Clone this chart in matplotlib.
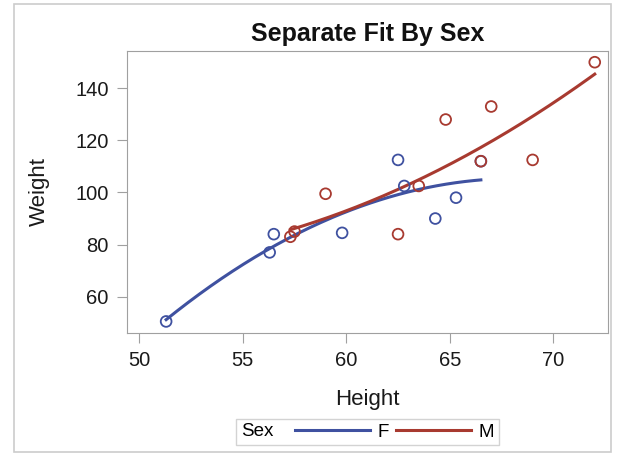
import numpy as np
import matplotlib
matplotlib.use("Agg")
import matplotlib.pyplot as plt
from matplotlib.lines import Line2D
from matplotlib.patches import Rectangle
from matplotlib.offsetbox import HPacker

plt.rcParams['font.family'] = ['Liberation Sans', 'DejaVu Sans']

# sashelp.class data
sex = ["M","F","F","F","M","M","F","F","M","M","F","F","F","F","M","M","M","M","M"]
height = [69.0,56.5,65.3,62.8,63.5,57.3,59.8,62.5,62.5,59.0,51.3,64.3,56.3,66.5,72.0,64.8,67.0,57.5,66.5]
weight = [112.5,84.0,98.0,102.5,102.5,83.0,84.5,112.5,84.0,99.5,50.5,90.0,77.0,112.0,150.0,128.0,133.0,85.0,112.0]
groups = ["F", "M"]
colors = {"F": "#3F51A0", "M": "#A83A30"}
xticks = [50, 55, 60, 65, 70]
yticks = [60, 80, 100, 120, 140]

W, H = 619, 453
fig = plt.figure(figsize=(W/100, H/100), dpi=100)
fig.patches.append(Rectangle((14/W, 1-452/H), (611-14)/W, (452-4)/H, transform=fig.transFigure,
                             fill=False, edgecolor="#cccccc", lw=1.2))
L, R, T, B = 127, 608, 51, 333
ax = fig.add_axes([L/W, 1-B/H, (R-L)/W, (B-T)/H])

h = np.array(height); w = np.array(weight); s = np.array(sex)
for g in groups:
    m = s == g
    coef = np.polyfit(h[m], w[m], 2)
    xs = np.linspace(h[m].min(), h[m].max(), 200)
    ax.plot(xs, np.polyval(coef, xs), color=colors[g], lw=2.2, zorder=2)
for g in groups:
    m = s == g
    ax.scatter(h[m], w[m], s=60, facecolors="none", edgecolors=colors[g], linewidths=1.3, zorder=3)

ax.set_xlim(49.41, 72.64)
ax.set_ylim(46.06, 154.3)
ax.set_xticks(xticks)
ax.set_yticks(yticks)
for sp in ax.spines.values():
    sp.set_color("#a0a0a0")
ax.tick_params(direction="out", length=7.2, color="#a0a0a0", labelsize=14.5, labelcolor="#1a1a1a")
ax.tick_params(axis="x", pad=5.5)
ax.tick_params(axis="y", pad=6)
ax.set_xlabel("Height", fontsize=16, color="#1a1a1a", va="center")
ax.set_ylabel("Weight", fontsize=16, color="#1a1a1a", va="center")
ax.xaxis.set_label_coords(0.5, (B-400)/(B-T))
ax.yaxis.set_label_coords((39-L)/(R-L), 0.5)
fig.text(367.5/W, 1-41/H, "Separate Fit By Sex", ha="center", va="baseline",
         fontsize=18, fontweight="bold", color="#111111")

handles = [Line2D([], [], color=colors[g], lw=2.2) for g in groups]
leg = fig.legend(handles, groups, title="Sex", loc="center", bbox_to_anchor=(367.5/W, 1-432/H),
                 ncol=2, frameon=True, fontsize=13.5, title_fontsize=13.5, handlelength=4.0,
                 handletextpad=0.4, columnspacing=0.36, borderpad=0.25, fancybox=False)
leg.get_frame().set_edgecolor("#c8c8c8")
title_box = leg._legend_title_box
body = leg._legend_handle_box
leg._legend_box._children = [HPacker(pad=0, sep=16, children=[title_box, body], align="center")]

fig.savefig("out.png", dpi=100)
